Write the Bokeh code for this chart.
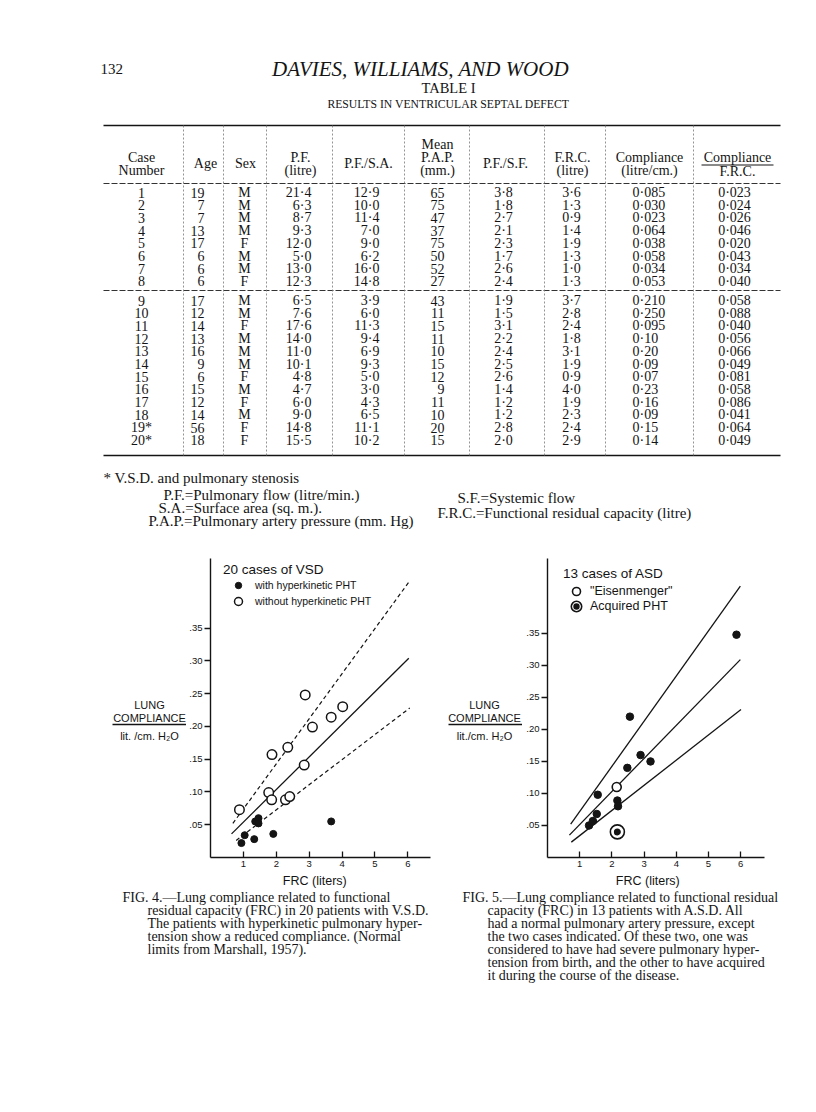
from bokeh.plotting import figure
from bokeh.models import Range1d, ColumnDataSource, Label, Legend, LegendItem, FixedTicker
from bokeh.layouts import column, row
from bokeh.embed import file_html
from bokeh.resources import INLINE
from bokeh.core.properties import value

# ---------------- data: Table I ----------------
case = ["1", "2", "3", "4", "5", "6", "7", "8", "9", "10", "11", "12", "13", "14", "15", "16", "17", "18", "19*", "20*"]
age = ["19", "7", "7", "13", "17", "6", "6", "6", "17", "12", "14", "13", "16", "9", "6", "15", "12", "14", "56", "18"]
sex = ["M", "M", "M", "M", "F", "M", "M", "F", "M", "M", "F", "M", "M", "M", "F", "M", "F", "M", "F", "F"]
pf = ["21·4", "6·3", "8·7", "9·3", "12·0", "5·0", "13·0", "12·3", "6·5", "7·6", "17·6", "14·0", "11·0", "10·1", "4·8", "4·7", "6·0", "9·0", "14·8", "15·5"]
pf_sa = ["12·9", "10·0", "11·4", "7·0", "9·0", "6·2", "16·0", "14·8", "3·9", "6·0", "11·3", "9·4", "6·9", "9·3", "5·0", "3·0", "4·3", "6·5", "11·1", "10·2"]
pap = ["65", "75", "47", "37", "75", "50", "52", "27", "43", "11", "15", "11", "10", "15", "12", "9", "11", "10", "20", "15"]
pf_sf = ["3·8", "1·8", "2·7", "2·1", "2·3", "1·7", "2·6", "2·4", "1·9", "1·5", "3·1", "2·2", "2·4", "2·5", "2·6", "1·4", "1·2", "1·2", "2·8", "2·0"]
frc = ["3·6", "1·3", "0·9", "1·4", "1·9", "1·3", "1·0", "1·3", "3·7", "2·8", "2·4", "1·8", "3·1", "1·9", "0·9", "4·0", "1·9", "2·3", "2·4", "2·9"]
compliance = ["0·085", "0·030", "0·023", "0·064", "0·038", "0·058", "0·034", "0·053", "0·210", "0·250", "0·095", "0·10", "0·20", "0·09", "0·07", "0·23", "0·16", "0·09", "0·15", "0·14"]
comp_frc = ["0·023", "0·024", "0·026", "0·046", "0·020", "0·043", "0·034", "0·040", "0·058", "0·088", "0·040", "0·056", "0·066", "0·049", "0·081", "0·058", "0·086", "0·041", "0·064", "0·049"]

# ---------------- data: Fig. 4 (VSD) ----------------
vsd_with_frc = [0.94, 1.04, 1.33, 1.36, 1.46, 1.46, 1.91, 3.67]
vsd_with_comp = [0.022, 0.034, 0.028, 0.055, 0.060, 0.052, 0.036, 0.055]
vsd_without_frc = [0.88, 1.77, 1.86, 1.87, 2.28, 2.35, 2.41, 2.85, 2.88, 3.10, 3.67, 4.02]
vsd_without_comp = [0.073, 0.099, 0.088, 0.157, 0.088, 0.168, 0.093, 0.141, 0.248, 0.199, 0.214, 0.230]
vsd_upper_x = [0.68, 6.06]
vsd_upper_y = [0.052, 0.422]
vsd_mid_x = [0.64, 6.03]
vsd_mid_y = [0.036, 0.304]
vsd_lower_x = [0.78, 6.06]
vsd_lower_y = [0.026, 0.228]

# ---------------- data: Fig. 5 (ASD) ----------------
asd_frc = [1.29, 1.41, 1.53, 1.56, 2.17, 2.19, 2.48, 2.56, 2.89, 3.20, 5.87]
asd_comp = [0.050, 0.057, 0.068, 0.098, 0.089, 0.080, 0.140, 0.220, 0.160, 0.150, 0.348]
eis_frc = [2.15]
eis_comp = [0.110]
acq_frc = [2.17]
acq_comp = [0.040]
asd_upper_x = [0.72, 5.99]
asd_upper_y = [0.052, 0.424]
asd_mid_x = [0.68, 5.99]
asd_mid_y = [0.035, 0.309]
asd_lower_x = [0.74, 6.01]
asd_lower_y = [0.024, 0.231]

x_ticks = [1, 2, 3, 4, 5, 6]
y_ticks = [0.05, 0.10, 0.15, 0.20, 0.25, 0.30, 0.35]
y_tick_labels = [".05", ".10", ".15", ".20", ".25", ".30", ".35"]

SERIF = "Liberation Serif"
SANS = "Liberation Sans"
INK = "#141414"


def page_fig(x0, y0, w, h, y_top=None, y_bottom=None, **kw):
    yr = Range1d(y_bottom if y_bottom is not None else y0 + h,
                 y_top if y_top is not None else y0)
    p = figure(width=w, height=h, x_range=Range1d(x0, x0 + w), y_range=yr,
               x_axis_type=None, y_axis_type=None, output_backend="svg", toolbar_location=None,
               outline_line_color=None, **kw)
    return p


def txt(p, x, y, s, size, font=SERIF, align="left", style="normal"):
    p.add_layout(Label(x=x, y=y, text=s, text_font=font, text_font_size=f"{size}px",
                       text_align=align, text_baseline="middle", text_font_style=style,
                       text_color=INK))


def col_text(p, xs, ys, texts, align, size=14):
    src = ColumnDataSource(dict(x=xs, y=ys, t=texts))
    p.text(x="x", y="y", text="t", source=src, text_font=value(SERIF),
           text_font_size=value(f"{size}px"), text_align=align, text_baseline="middle",
           text_color=INK)


# ================= top: header + table + notes =================
top = page_fig(0, 0, 816, 545, min_border=0)
txt(top, 100, 68, "132", 15)
txt(top, 420, 68, "DAVIES, WILLIAMS, AND WOOD", 21, align="center", style="italic")
txt(top, 448, 87, "TABLE I", 14.5, align="center")
txt(top, 448, 104, "RESULTS IN VENTRICULAR SEPTAL DEFECT", 11.7, align="center")

TL, TR = 103, 780
top.line(x=[TL, TR], y=[125, 125], line_color=INK, line_width=1.6)
top.line(x=[TL, TR], y=[183, 183], line_color="#333", line_width=1, line_dash="6 2")
top.line(x=[TL, TR], y=[290, 290], line_color="#333", line_width=1, line_dash="6 2")
top.line(x=[TL, TR], y=[455, 455], line_color=INK, line_width=1.6)
vlines = [183, 223, 266, 332, 404, 469, 544, 605, 693]
top.segment(x0=vlines, y0=[125] * len(vlines), x1=vlines, y1=[455] * len(vlines),
            line_color="#777", line_width=0.8, line_dash="2 2")

# header
HB, HC, HA = 157, 170, 144
txt(top, 141, HB, "Case", 14, align="center")
txt(top, 141, HC, "Number", 14, align="center")
txt(top, 205, 163, "Age", 14, align="center")
txt(top, 245, 163, "Sex", 14, align="center")
txt(top, 300, HB, "P.F.", 14, align="center")
txt(top, 300, HC, "(litre)", 14, align="center")
txt(top, 368, 163, "P.F./S.A.", 14, align="center")
txt(top, 437, HA, "Mean", 14, align="center")
txt(top, 437, HB, "P.A.P.", 14, align="center")
txt(top, 437, HC, "(mm.)", 14, align="center")
txt(top, 505, 163, "P.F./S.F.", 14, align="center")
txt(top, 572, HB, "F.R.C.", 14, align="center")
txt(top, 572, HC, "(litre)", 14, align="center")
txt(top, 649, HB, "Compliance", 14, align="center")
txt(top, 649, HC, "(litre/cm.)", 14, align="center")
txt(top, 737, HB, "Compliance", 14, align="center")
txt(top, 737, HC + 1, "F.R.C.", 14, align="center")
top.line(x=[701, 773], y=[164.5, 164.5], line_color=INK, line_width=1.2)

ROW_PITCH = 12.7
row_y = [192 + i * ROW_PITCH if i < 8 else 300 + (i - 8) * ROW_PITCH for i in range(len(case))]
col_text(top, [141] * 20, row_y, case, "center")
col_text(top, [204] * 20, row_y, age, "right")
col_text(top, [244] * 20, row_y, sex, "center")
col_text(top, [311] * 20, row_y, pf, "right")
col_text(top, [379] * 20, row_y, pf_sa, "right")
col_text(top, [444] * 20, row_y, pap, "right")
col_text(top, [503] * 20, row_y, pf_sf, "center")
col_text(top, [571] * 20, row_y, frc, "center")
col_text(top, [632] * 20, row_y, compliance, "left")
col_text(top, [734] * 20, row_y, comp_frc, "center")

# notes
txt(top, 103, 477, "* V.S.D. and pulmonary stenosis", 15)
txt(top, 163, 494, "P.F.=Pulmonary flow (litre/min.)", 15)
txt(top, 158, 507, "S.A.=Surface area (sq. m.).", 15)
txt(top, 148, 520, "P.A.P.=Pulmonary artery pressure (mm. Hg)", 15)
txt(top, 457, 497, "S.F.=Systemic flow", 15)
txt(top, 437, 512, "F.R.C.=Functional residual capacity (litre)", 15)

# ================= figures =================
# Row of plots: page y 545..872; plot frames (aligned across the row) 558..857.
ROW_Y0, ROW_H = 545, 327
B_TOP, B_BOT = 13, 15
FR_TOP, FR_BOT = ROW_Y0 + B_TOP, ROW_Y0 + ROW_H - B_BOT


def y_label_fig(x0, w, cx, line_x0, line_x1, unit_text):
    p = page_fig(x0, ROW_Y0, w, ROW_H, y_top=FR_TOP, y_bottom=FR_BOT,
                 min_border_left=0, min_border_right=0,
                 min_border_top=B_TOP, min_border_bottom=B_BOT)
    txt(p, cx, 704, "LUNG", 11, font=SANS, align="center")
    txt(p, cx, 717, "COMPLIANCE", 11, font=SANS, align="center")
    p.line(x=[line_x0, line_x1], y=[724, 724], line_color=INK, line_width=1.3)
    txt(p, cx, 735, unit_text, 11, font=SANS, align="center")
    return p


def plot_fig(w, x_end, y_end, bl, br):
    p = figure(width=w, height=ROW_H, x_range=Range1d(0, x_end), y_range=Range1d(0, y_end),
               output_backend="svg", toolbar_location=None, outline_line_color=None,
               min_border_left=bl, min_border_right=br,
               min_border_top=B_TOP, min_border_bottom=B_BOT)
    p.grid.visible = False
    xa, ya = p.xaxis[0], p.yaxis[0]
    xa.ticker = FixedTicker(ticks=x_ticks)
    ya.ticker = FixedTicker(ticks=y_ticks)
    ya.major_label_overrides = dict(zip(y_ticks, y_tick_labels))
    for ax in (xa, ya):
        ax.axis_line_color = INK
        ax.axis_line_width = 1.4
        ax.major_tick_line_color = INK
        ax.major_tick_line_width = 1.3
        ax.minor_tick_line_color = None
        ax.major_label_text_font = SANS
        ax.major_label_text_font_size = "9.5px"
        ax.major_label_text_color = INK
    xa.major_tick_in = 6
    xa.major_tick_out = 0
    xa.major_label_standoff = 3
    ya.major_tick_in = 0
    ya.major_tick_out = 6
    ya.major_label_standoff = 2
    return p


def legend(items, loc, gw, gh, size, title=None, standoff=2):
    kw = dict(items=items, location=loc,
              label_text_font=SANS, label_text_font_size=f"{size}px", label_text_color=INK,
              glyph_width=gw, glyph_height=gh, spacing=0, label_height=10,
              label_standoff=standoff, padding=0, margin=0, border_line_color=None,
              background_fill_alpha=0)
    if title:
        kw.update(title=title, title_text_font=SANS, title_text_font_size="13.5px",
                  title_text_font_style="normal", title_text_color=INK, title_standoff=0)
    return Legend(**kw)


lab4 = y_label_fig(0, 186, 149, 112, 188, "lit. /cm. H₂O")
f4 = plot_fig(259, 6.69, 0.456, 24, 15)
f4.line(vsd_upper_x, vsd_upper_y, line_color=INK, line_width=1.2, line_dash="4 3")
f4.line(vsd_mid_x, vsd_mid_y, line_color=INK, line_width=1.3)
f4.line(vsd_lower_x, vsd_lower_y, line_color=INK, line_width=1.2, line_dash="4 3")
r_with = f4.scatter(vsd_with_frc, vsd_with_comp, marker="circle", size=7,
                    fill_color=INK, line_color=INK)
r_without = f4.scatter(vsd_without_frc, vsd_without_comp, marker="circle", size=9.5,
                       fill_color="white", line_color=INK, line_width=1.5)
f4.add_layout(legend([LegendItem(label="with hyperkinetic PHT", renderers=[r_with])],
                     (13, 264), 30, 16, 10.5, title="20 cases of VSD"))
f4.add_layout(legend([LegendItem(label="without hyperkinetic PHT", renderers=[r_without])],
                     (13, 246), 30, 20, 10.5))

lab5 = y_label_fig(445, 77, 484, 448, 522, "lit./cm. H₂O")
f5 = plot_fig(294, 6.74, 0.467, 25, 52)
f5.line(asd_upper_x, asd_upper_y, line_color=INK, line_width=1.3)
f5.line(asd_mid_x, asd_mid_y, line_color=INK, line_width=1.3)
f5.line(asd_lower_x, asd_lower_y, line_color=INK, line_width=1.3)
f5.scatter(asd_frc, asd_comp, marker="circle", size=7.5, fill_color=INK, line_color=INK)
r_eis = f5.scatter(eis_frc, eis_comp, marker="circle", size=9, fill_color="white",
                   line_color=INK, line_width=1.6)
r_acq_dot = f5.scatter(acq_frc, acq_comp, marker="circle", size=11, fill_color=INK,
                       line_color="white", line_width=4)
r_acq_ring = f5.scatter(acq_frc, acq_comp, marker="circle", size=14, fill_color=None,
                        line_color=INK, line_width=1.6)
f5.add_layout(legend([LegendItem(label="\"Eisenmenger\"", renderers=[r_eis])],
                     (16, 256), 26, 20, 12.5, title="13 cases of ASD", standoff=1))
f5.add_layout(legend([LegendItem(label="Acquired PHT", renderers=[r_acq_dot, r_acq_ring])],
                     (16, 236), 26, 30, 12.5, standoff=1))

# ================= x-axis titles + captions =================
bottom = page_fig(0, 872, 816, 238, min_border=0)
txt(bottom, 316, 880, "FRC  (liters)", 12.5, font=SANS, align="center")
txt(bottom, 649, 880, "FRC  (liters)", 12.5, font=SANS, align="center")
cap4 = ["FIG. 4.—Lung compliance related to functional",
        "residual capacity (FRC) in 20 patients with V.S.D.",
        "The patients with hyperkinetic pulmonary hyper-",
        "tension show a reduced compliance.  (Normal",
        "limits from Marshall, 1957)."]
cap5 = ["FIG. 5.—Lung compliance related to functional residual",
        "capacity (FRC) in 13 patients with A.S.D.  All",
        "had a normal pulmonary artery pressure, except",
        "the two cases indicated.  Of these two, one was",
        "considered to have had severe pulmonary hyper-",
        "tension from birth, and the other to have acquired",
        "it during the course of the disease."]
for i, s in enumerate(cap4):
    txt(bottom, 122 if i == 0 else 147, 897 + 13 * i, s, 14)
for i, s in enumerate(cap5):
    txt(bottom, 462 if i == 0 else 487, 897 + 13 * i, s, 14)

layout = column(top, row(lab4, f4, lab5, f5), bottom)
open("out.html", "w").write(file_html(layout, INLINE))
